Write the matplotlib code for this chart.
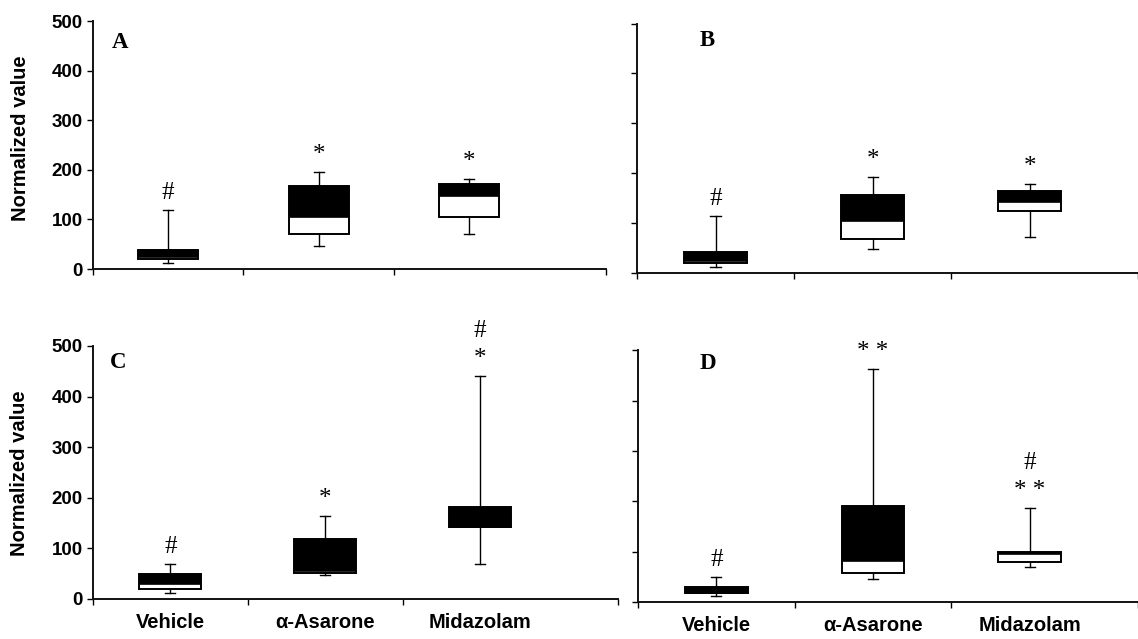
import numpy as np
import matplotlib
matplotlib.use('Agg')
import matplotlib.pyplot as plt

plt.rcParams['font.family'] = ['Liberation Sans', 'DejaVu Sans']

groups = ['Vehicle', 'α-Asarone', 'Midazolam']

# box statistics: lower whisker, Q1, median, Q3, upper whisker
low_A = [12, 47, 71]
q1_A = [20, 71, 104]
med_A = [25, 105, 147]
q3_A = [38, 167, 171]
high_A = [119, 196, 181]
marks_A = [['#'], ['*'], ['*']]

low_B = [11, 48, 71]
q1_B = [19, 68, 124]
med_B = [24, 105, 143]
q3_B = [41, 157, 165]
high_B = [114, 192, 178]
marks_B = [['#'], ['*'], ['*']]

low_C = [11, 47, 70]
q1_C = [20, 52, 142]
med_C = [30, 56, 142]
q3_C = [49, 118, 182]
high_C = [70, 164, 441]
marks_C = [['#'], ['*'], ['*', '#']]

low_D = [11, 46, 69]
q1_D = [17, 58, 79]
med_D = [17, 81, 96]
q3_D = [30, 190, 99]
high_D = [50, 463, 187]
marks_D = [['#'], ['* *'], ['* *', '#']]

panels = [
    ('A', low_A, q1_A, med_A, q3_A, high_A, marks_A),
    ('B', low_B, q1_B, med_B, q3_B, high_B, marks_B),
    ('C', low_C, q1_C, med_C, q3_C, high_C, marks_C),
    ('D', low_D, q1_D, med_D, q3_D, high_D, marks_D),
]

# layout (figure fractions) and x extent of each panel
rects = [[0.0817, 0.579, 0.4508, 0.388],
         [0.5598, 0.573, 0.4402, 0.390],
         [0.0817, 0.0626, 0.4613, 0.396],
         [0.5606, 0.058, 0.4394, 0.394]]
xmax = [3.41, 3.19, 3.39, 3.19]
letter_xy = [(0.037, 0.89), (0.126, 0.909), (0.032, 0.912), (0.124, 0.926)]
ylabel_y = [0.526, None, 0.496, None]

fig = plt.figure(figsize=(11.38, 6.39), dpi=100)

for i, (letter, lo, q1, med, q3, hi, marks) in enumerate(panels):
    ax = fig.add_axes(rects[i])
    pos = np.arange(len(groups)) + 0.5
    stats = [dict(whislo=lo[k], q1=q1[k], med=med[k], q3=q3[k], whishi=hi[k], fliers=[])
             for k in range(len(groups))]
    ax.bxp(stats, positions=pos, widths=0.4, capwidths=0.065, patch_artist=True,
           showfliers=False, manage_ticks=False,
           boxprops=dict(facecolor='white', edgecolor='black', linewidth=1.4),
           medianprops=dict(color='black', linewidth=0.6),
           whiskerprops=dict(color='black', linewidth=1.0),
           capprops=dict(color='black', linewidth=1.0))
    # upper half of each box (median to Q3) is filled black
    ax.bar(pos, np.subtract(q3, med), bottom=med, width=0.4, color='black',
           linewidth=0, zorder=3)

    # significance marks stacked above the upper whisker
    for k in range(len(groups)):
        for j, m in enumerate(marks[k]):
            ax.annotate(m, (pos[k], hi[k]), xytext=(0, 11 + 28 * j),
                        textcoords='offset pixels', ha='center', va='baseline',
                        family='Liberation Serif', fontsize=18)

    ax.text(letter_xy[i][0], letter_xy[i][1], letter, transform=ax.transAxes,
            family='Liberation Serif', fontweight='bold', fontsize=16.5,
            va='baseline', ha='left')

    ax.set_xlim(0, xmax[i])
    ax.set_ylim(0, 500)
    ax.set_yticks([0, 100, 200, 300, 400, 500])
    ax.set_xticks([0, 1, 2, xmax[i]])
    ax.set_xticklabels([])
    ax.set_xticks(pos, minor=True)
    if i >= 2:
        ax.set_xticklabels(groups, minor=True, fontsize=14.5, fontweight='bold')
    ax.tick_params(axis='x', which='minor', length=0, pad=10)
    ax.tick_params(axis='both', which='major', direction='out', length=4, width=1.0,
                   labelsize=13.5)
    if i % 2 == 0:
        for t in ax.get_yticklabels():
            t.set_fontweight('bold')
        ax.set_ylabel('Normalized value', fontsize=14.5, fontweight='bold')
        ax.yaxis.set_label_coords(-0.122, ylabel_y[i])
    else:
        ax.set_yticklabels([])

    for s in ['top', 'right']:
        ax.spines[s].set_visible(False)
    for s in ['left', 'bottom']:
        ax.spines[s].set_linewidth(1.4)
        ax.spines[s].set_color('#111111')

fig.savefig('out.png', dpi=100)
